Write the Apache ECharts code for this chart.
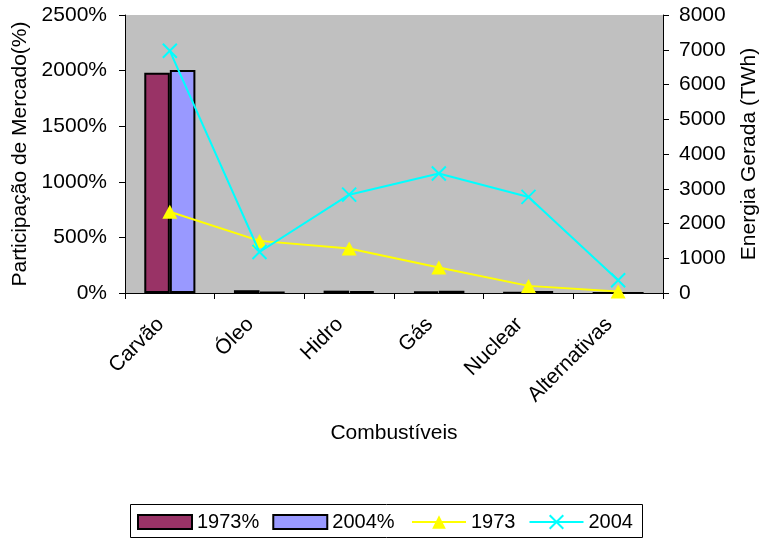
<!DOCTYPE html>
<html><head><meta charset="utf-8">
<script src="https://cdn.jsdelivr.net/npm/echarts@6/dist/echarts.min.js"></script>
<style>html,body{margin:0;padding:0;background:#fff}#c{width:760px;height:542px}</style>
</head><body><div id="c"></div>
<script>
const categories = ['Carvão', 'Óleo', 'Hidro', 'Gás', 'Nuclear', 'Alternativas'];
const share1973 = [1980, 25, 21, 12, 3, 0.6];
const share2004 = [2005, 7, 16, 20, 16, 2];
const energy1973 = [2340, 1500, 1280, 735, 205, 45];
const energy2004 = [6970, 1180, 2830, 3440, 2765, 365];
const leftTicks = {min: 0, max: 2500, interval: 500};
const rightTicks = {min: 0, max: 8000, interval: 1000};

const FONT = 'Liberation Sans, Arial, sans-serif';
const FS = 21;
const chart = echarts.init(document.getElementById('c'), null, {renderer: 'canvas'});
const cross = 'path://M0,0L10,10M10,0L0,10';
const legendText = {fontFamily: FONT, fontSize: 20, color: '#000'};
chart.setOption({
  animation: false,
  textStyle: {fontFamily: FONT, color: '#000'},
  grid: {left: 125, right: 97, top: 15, bottom: 249, show: true, backgroundColor: '#C0C0C0', borderWidth: 0,
         containLabel: false, outerBoundsMode: 'none'},
  graphic: [{type: 'rect', shape: {x: 130.5, y: 504.5, width: 512, height: 33},
             style: {fill: 'none', stroke: '#000', lineWidth: 1}, silent: true}],
  legend: [{
    left: 137, top: 512, orient: 'horizontal', padding: 0,
    itemWidth: 54, itemHeight: 14, itemGap: 13, textStyle: legendText,
    data: [{name: '1973%', icon: 'rect'}, {name: '2004%', icon: 'rect'}]
  }, {
    left: 411, top: 512, orient: 'horizontal', padding: 0,
    itemWidth: 54, itemHeight: 17, itemGap: 13, textStyle: legendText,
    data: ['1973', '2004']
  }],
  xAxis: {
    type: 'category', data: categories, boundaryGap: true,
    name: 'Combustíveis', nameLocation: 'middle', nameGap: 130,
    nameTextStyle: {fontFamily: FONT, fontSize: FS, color: '#000'},
    axisLine: {lineStyle: {color: '#000', width: 1}},
    axisTick: {show: true, length: 6, lineStyle: {color: '#000'}},
    axisLabel: {rotate: 45, margin: 19, padding: [0, 13, 0, 0], fontFamily: FONT, fontSize: FS, color: '#000'}
  },
  yAxis: [{
    type: 'value', min: leftTicks.min, max: leftTicks.max, interval: leftTicks.interval,
    position: 'left',
    name: 'Participação de Mercado(%)', nameLocation: 'middle', nameGap: 93, nameRotate: 90,
    nameTextStyle: {fontFamily: FONT, fontSize: FS, color: '#000'},
    axisLine: {show: true, lineStyle: {color: '#000'}},
    axisTick: {show: true, length: 6, lineStyle: {color: '#000'}},
    splitLine: {show: false},
    axisLabel: {formatter: function (v) { return String(v) + '%'; }, margin: 18, fontFamily: FONT, fontSize: FS, color: '#000'}
  }, {
    type: 'value', min: rightTicks.min, max: rightTicks.max, interval: rightTicks.interval,
    position: 'right',
    name: 'Energia Gerada (TWh)', nameLocation: 'middle', nameGap: 76, nameRotate: 90,
    nameTextStyle: {fontFamily: FONT, fontSize: FS, color: '#000'},
    axisLine: {show: true, lineStyle: {color: '#000'}},
    axisTick: {show: true, length: 6, lineStyle: {color: '#000'}},
    splitLine: {show: false},
    axisLabel: {formatter: function (v) { return String(v); }, margin: 16, fontFamily: FONT, fontSize: FS, color: '#000'}
  }],
  series: [
    {name: '1973%', type: 'bar', yAxisIndex: 0, data: share1973, barGap: '0%', barCategoryGap: '43%',
     itemStyle: {color: '#993366', borderColor: '#000', borderWidth: 2}},
    {name: '2004%', type: 'bar', yAxisIndex: 0, data: share2004,
     itemStyle: {color: '#9999FF', borderColor: '#000', borderWidth: 2}},
    {name: '1973', type: 'line', yAxisIndex: 1, data: energy1973, z: 5,
     symbol: 'triangle', symbolSize: [15, 14],
     lineStyle: {color: '#FFFF00', width: 2}, itemStyle: {color: '#FFFF00'}},
    {name: '2004', type: 'line', yAxisIndex: 1, data: energy2004, z: 6,
     symbol: cross, symbolSize: 14,
     lineStyle: {color: '#00FFFF', width: 2}, itemStyle: {color: '#00FFFF', borderColor: '#00FFFF', borderWidth: 2}}
  ]
});
</script></body></html>
